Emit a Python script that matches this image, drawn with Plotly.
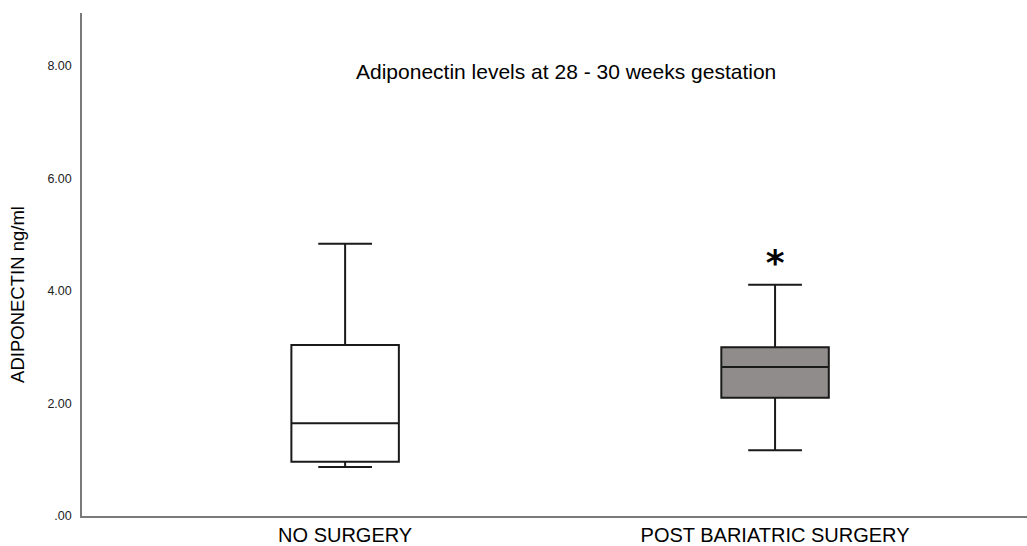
import plotly.graph_objects as go

categories = ["NO SURGERY", "POST BARIATRIC SURGERY"]
lower_whisker = [0.87, 1.17]
q1_vals = [0.965, 2.10]
medians = [1.65, 2.65]
q3_vals = [3.04, 3.00]
upper_whisker = [4.84, 4.11]
fill_colors = ["#ffffff", "#908c8b"]
outlier_cat = ["POST BARIATRIC SURGERY"]
outlier_vals = [4.45]
tick_vals = [0, 2, 4, 6, 8]
tick_text = [".00", "2.00", "4.00", "6.00", "8.00"]

fig = go.Figure()
for i, cat in enumerate(categories):
    fig.add_trace(go.Box(
        x=[cat], q1=[q1_vals[i]], median=[medians[i]], q3=[q3_vals[i]],
        lowerfence=[lower_whisker[i]], upperfence=[upper_whisker[i]],
        fillcolor=fill_colors[i], line=dict(color="#1a1a1a", width=2),
        width=0.25, whiskerwidth=0.5, boxpoints=False, showlegend=False,
        hoverinfo="skip",
    ))

fig.add_trace(go.Scatter(
    x=outlier_cat, y=outlier_vals, mode="text", text=["<b>*</b>"],
    textfont=dict(size=36, color="#000000", family="DejaVu Sans"),
    textposition="middle center", showlegend=False, hoverinfo="skip",
))

fig.update_layout(
    width=1027, height=546,
    margin=dict(l=82, r=0, t=13, b=30),
    paper_bgcolor="white", plot_bgcolor="white",
    font=dict(family="Liberation Sans, Arial, sans-serif", color="#000000"),
    xaxis=dict(
        type="category", range=[-0.612, 1.586],
        showline=True, linecolor="#7a7a7a", linewidth=1.5,
        showgrid=False, zeroline=False, ticks="",
        tickfont=dict(size=20, color="#000000"),
    ),
    yaxis=dict(
        range=[0, 8.94], tickvals=tick_vals, ticktext=tick_text,
        showline=True, linecolor="#7a7a7a", linewidth=1.5,
        showgrid=False, zeroline=False, ticks="",
        ticklabelstandoff=6,
        tickfont=dict(size=12.5, color="#222222"),
    ),
    annotations=[
        dict(
            text="Adiponectin levels at 28 - 30 weeks gestation",
            x=0.512, y=7.9, xref="paper", yref="y",
            showarrow=False, font=dict(size=21, color="#000000"),
            xanchor="center", yanchor="middle",
        ),
        dict(
            text="ADIPONECTIN ng/ml", textangle=-90,
            x=-0.0677, y=3.93, xref="paper", yref="y",
            showarrow=False, font=dict(size=18.5, color="#000000"),
            xanchor="center", yanchor="middle",
        ),
    ],
)

fig.write_html("out.html")
